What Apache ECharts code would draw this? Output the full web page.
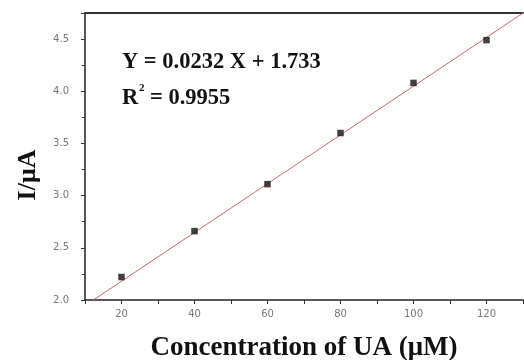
<!DOCTYPE html>
<html><head><meta charset="utf-8">
<script src="https://cdn.jsdelivr.net/npm/echarts@6/dist/echarts.min.js"></script>
<style>html,body{margin:0;padding:0;background:#fff}#c{width:524px;height:360px}</style>
</head><body><div id="c"></div>
<script>
// Data
const concentrations = [20, 40, 60, 80, 100, 120];
const currents = [2.22, 2.66, 3.11, 3.60, 4.08, 4.49];
// Fit line endpoints
const fitX = [12.3, 130];
const fitY = [2.0, 4.75];
const xTickLabels = ['20', '40', '60', '80', '100', '120'];
const xTitle = 'Concentration of UA (μM)';
const yTitle = 'I/μA';
const equationText = 'Y = 0.0232 X + 1.733';
const r2Value = '0.9955';

const chart = echarts.init(document.getElementById('c'), null, {renderer: 'canvas'});
const labelFont = 'DejaVu Sans';
const serif = 'Liberation Serif';
chart.setOption({
  animation: false,
  backgroundColor: '#fff',
  grid: {left: 85, right: 1, top: 13, bottom: 60, containLabel: false, outerBoundsMode: 'none'},
  xAxis: [{
    type: 'value', min: 10, max: 130, interval: 10,
    position: 'bottom',
    name: xTitle, nameLocation: 'middle', nameGap: 35,
    nameTextStyle: {fontFamily: serif, fontWeight: 'bold', fontSize: 27, color: '#111'},
    axisLine: {show: true, onZero: false, lineStyle: {color: '#222', width: 1.5}},
    axisTick: {show: true, inside: false, length: 4, lineStyle: {color: '#333'}},
    axisLabel: {interval: 0, margin: 9, fontFamily: labelFont, fontSize: 10, color: '#777',
      showMinLabel: true, showMaxLabel: true,
      formatter: v => xTickLabels.includes(String(v)) ? String(v) : ''},
    splitLine: {show: false}
  }, {
    type: 'value', min: 10, max: 130, position: 'top',
    axisLine: {show: true, onZero: false, lineStyle: {color: '#333', width: 2}},
    axisTick: {show: false}, axisLabel: {show: false}, splitLine: {show: false}
  }],
  yAxis: {
    type: 'value', min: 2, max: 4.75, interval: 0.5,
    axisLine: {show: true, onZero: false, lineStyle: {color: '#222', width: 1.5}},
    axisTick: {show: true, length: 4, lineStyle: {color: '#333'}},
    minorTick: {show: true, splitNumber: 2, length: 3, lineStyle: {color: '#333'}},
    axisLabel: {margin: 16, fontFamily: labelFont, fontSize: 10, color: '#777',
      showMaxLabel: false, formatter: v => v.toFixed(1)},
    splitLine: {show: false}
  },
  series: [{
    type: 'line',
    data: fitX.map((x, i) => [x, fitY[i]]),
    symbol: 'none',
    lineStyle: {color: '#c46a6a', width: 1},
    z: 2
  }, {
    type: 'scatter',
    data: concentrations.map((x, i) => [x, currents[i]]),
    symbol: 'rect', symbolSize: 6.5,
    itemStyle: {color: '#111'},
    z: 3
  }],
  graphic: [{
    type: 'text', x: 28, y: 175, rotation: Math.PI / 2,
    style: {text: yTitle, font: 'bold 26px "Liberation Serif"', fill: '#111', align: 'center', verticalAlign: 'middle'}
  }, {
    type: 'text', x: 122, y: 62.5,
    style: {text: equationText, font: 'bold 22.5px "Liberation Serif"', fill: '#111', verticalAlign: 'middle'}
  }, {
    type: 'text', x: 122, y: 98.5,
    style: {text: 'R', font: 'bold 22.5px "Liberation Serif"', fill: '#111', verticalAlign: 'middle'}
  }, {
    type: 'text', x: 139, y: 88,
    style: {text: '2', font: 'bold 11px "Liberation Serif"', fill: '#111', verticalAlign: 'middle'}
  }, {
    type: 'text', x: 150, y: 98.5,
    style: {text: '= ' + r2Value, font: 'bold 22.5px "Liberation Serif"', fill: '#111', verticalAlign: 'middle'}
  }]
});
</script></body></html>
